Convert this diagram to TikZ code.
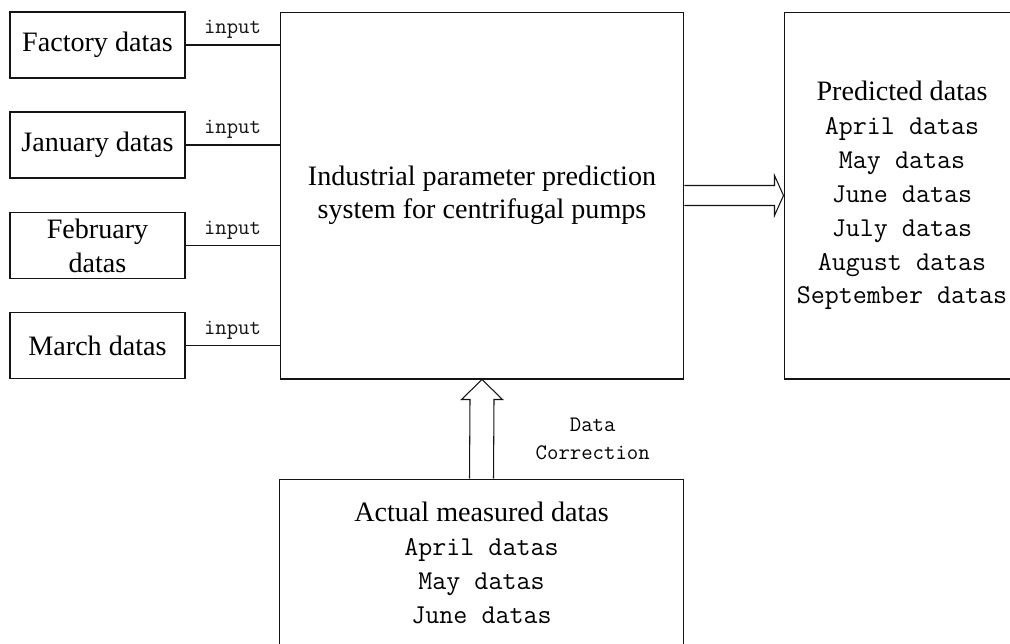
\documentclass[tikz,border=0pt]{standalone}
\usepackage{fontspec}
\setmainfont{Liberation Serif}
\usepackage{tikz}
\usetikzlibrary{positioning, calc}
\definecolor{mydark}{RGB}{20,20,20}
\newcommand{\mono}{\ttfamily\fontsize{15.5}{19.3}\selectfont}
\tikzset{
  inbox/.style={rectangle, draw=mydark, align=center,
    minimum width=3.5cm, minimum height=1.32cm,
    font=\fontsize{16}{19.3}\selectfont, line width=0.6pt},
  bigbox/.style={rectangle, draw=mydark, align=center,
    minimum width=8.08cm, minimum height=7.34cm,
    font=\fontsize{16}{18.8}\selectfont, line width=0.6pt},
  outbox/.style={rectangle, draw=mydark, align=center,
    minimum width=4.72cm, minimum height=7.34cm,
    font=\fontsize{16}{19.3}\selectfont, line width=0.6pt},
  measbox/.style={rectangle, draw=mydark, align=center,
    minimum width=8.1cm, minimum height=3.36cm,
    font=\fontsize{16}{19.3}\selectfont, line width=0.6pt},
  smalllbl/.style={font=\ttfamily\fontsize{12.6}{15.9}\selectfont, align=center},
  line/.style={line width=0.6pt, color=mydark}
}

\begin{document}
\begin{tikzpicture}[x=0.02cm, y=-0.02cm]
  \useasboundingbox (0,0) rectangle (1010,643);
  \fill[white] (0,0) rectangle (1010,643);
  \clip (0,0) rectangle (1010,643);

  % Input boxes on the left
  \node[inbox] (fact) at (97.5,45) {Factory datas};
  \node[inbox] (jan) at (97.5,145) {January datas};
  \node[inbox] (feb) at (97.5,245.5) {February\\datas};
  \node[inbox] (mar) at (97.5,345.5) {March datas};

  % Prediction system
  \node[bigbox] (sys) at (482,195.5) {Industrial parameter prediction\\system for centrifugal pumps};

  % Predicted output
  \node[outbox] (pred) at (902,195.5) {Predicted datas\\{\mono April datas}\\{\mono May datas}\\{\mono June datas}\\{\mono July datas}\\{\mono August datas}\\{\mono September datas}};

  % Measured data for correction
  \node[measbox] (meas) at (481.5,563) {Actual measured datas\\{\mono April datas}\\{\mono May datas}\\{\mono June datas}};

  % Input connectors
  \foreach \src in {fact, jan, feb, mar}
    \draw[line] (\src.east) -- (\src.east -| sys.west) node[midway, above, smalllbl] {input};

  % Hollow arrow to predicted datas
  \draw[line] ($(sys.east)+(0,-10)$) -- ($(pred.west)+(-9,-10)$) -- ($(pred.west)+(-9,-20)$)
    -- (pred.west) -- ($(pred.west)+(-9,20)$) -- ($(pred.west)+(-9,10)$) -- ($(sys.east)+(0,10)$);

  % Hollow arrow for data correction
  \draw[line] ($(meas.north)+(-12,0)$) -- ($(sys.south)+(-12,20)$) -- ($(sys.south)+(-20.5,20)$)
    -- (sys.south) -- ($(sys.south)+(20.5,20)$) -- ($(sys.south)+(12,20)$) -- ($(meas.north)+(12,0)$);
  \node[smalllbl] (corr) at ($(sys.south)!0.6!(meas.north)+(111,0)$) {Data\\Correction};
\end{tikzpicture}
\end{document}
